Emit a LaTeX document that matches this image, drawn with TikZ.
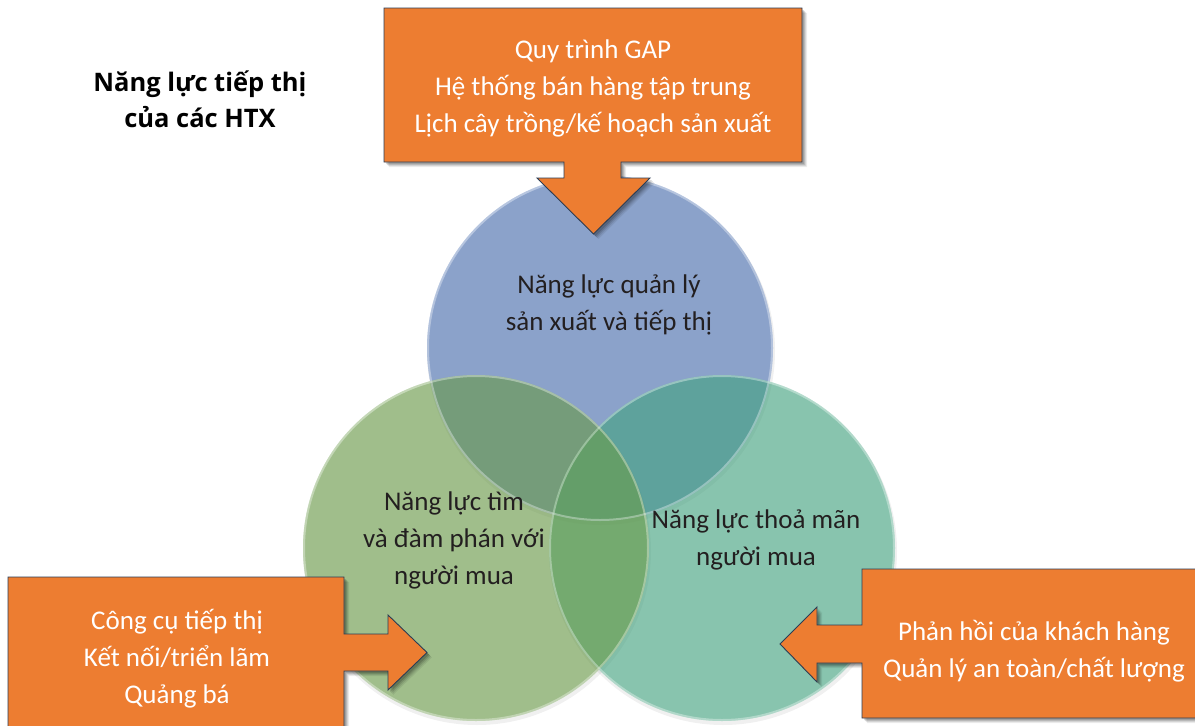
\documentclass[tikz,border=0pt]{standalone}
\usepackage{fontspec}
\setmainfont{Carlito}
\newfontfamily\headfont{Open Sans}
\definecolor{orangeC}{HTML}{ED7D31}
\definecolor{edgeC}{HTML}{2B3D55}
\definecolor{blueC}{HTML}{486EB1}
\definecolor{greenC}{HTML}{6B9D49}
\definecolor{tealC}{HTML}{44A782}
\definecolor{inkC}{HTML}{231F20}
\tikzset{
  ring/.style={circle, minimum size=346pt, inner sep=0pt, fill opacity=0.6},
  rim/.style={draw=white, draw opacity=0.35, line width=2pt},
  callout/.style={fill=orangeC, draw=edgeC, line width=0.9pt, line join=miter},
  calltext/.style={text=white, align=center, font=\fontsize{27}{37}\selectfont},
  ringtext/.style={text=inkC, align=center, font=\fontsize{27}{37}\selectfont},
  titletext/.style={text=black, align=center, font=\headfont\bfseries\fontsize{25.5}{36}\selectfont},
}
% outlines of the three arrow callouts
\def\topshape{(384,8) -- (802,8) -- (802,162) -- (621,162) -- (621,178) -- (650,178)
  -- (593.5,234) -- (537,178) -- (564,178) -- (564,162) -- (384,162) -- cycle}
\def\leftshape{(8,577) -- (344,577) -- (344,634) -- (388,634) -- (388,615) -- (427,652.5)
  -- (388,690) -- (388,671) -- (344,671) -- (344,740) -- (8,740) -- cycle}
\def\rightshape{(862,569) -- (1205,569) -- (1205,718) -- (862,718) -- (862,663) -- (817,663)
  -- (817,682) -- (780,644) -- (817,607) -- (817,625) -- (862,625) -- cycle}
\begin{document}
\begin{tikzpicture}[x=1pt, y=-1pt]
\useasboundingbox (0,0) rectangle (1195,726);
\clip (0,0) rectangle (1195,726);
\fill[white] (0,0) rectangle (1195,726);

% soft shadows under the circles
\foreach \c in {(600,348),(722,548),(476,548)}
  \fill[black, opacity=0.06] \c ++(1,3) circle[radius=174pt];

% the three overlapping circles
\node[ring, fill=blueC] (mgmt) at (600,348) {};
\node[ring, fill=tealC] (satisfy) at (722,548) {};
\node[ring, fill=greenC] (find) at (476,548) {};
\draw[rim] (mgmt.center) circle[radius=172pt];
\draw[rim] (satisfy.center) circle[radius=172pt];
\draw[rim] (find.center) circle[radius=172pt];

% circle labels
\node[ringtext] (mgmtlbl) at (609,305) {Năng lực quản lý\\sản xuất và tiếp thị};
\node[ringtext] (findlbl) at (454,540) {Năng lực tìm\\và đàm phán với\\người mua};
\node[ringtext] (satlbl) at (756,540) {Năng lực thoả mãn\\người mua};

% callout shadows
\foreach \d/\o in {5/0.07, 4/0.09, 3/0.12, 2/0.15} {
  \fill[black, opacity=\o, shift={(\d,\d)}] \topshape;
  \fill[black, opacity=\o, shift={(\d,\d)}] \leftshape;
  \fill[black, opacity=\o, shift={(\d,\d)}] \rightshape;
}
% arrow callouts
\draw[callout] \topshape;
\draw[callout] \leftshape;
\draw[callout] \rightshape;

\node[calltext] (toptxt) at (593,88) {Quy trình GAP\\Hệ thống bán hàng tập trung\\Lịch cây trồng/kế hoạch sản xuất};
\node[calltext] (lefttxt) at (177,659) {Công cụ tiếp thị\\Kết nối/triển lãm\\Quảng bá};
\node[calltext] (righttxt) at (1034,651) {Phản hồi của khách hàng\\Quản lý an toàn/chất lượng};

% title
\node[titletext] (title) at (200,99) {Năng lực tiếp thị\\của các HTX};
\end{tikzpicture}
\end{document}
